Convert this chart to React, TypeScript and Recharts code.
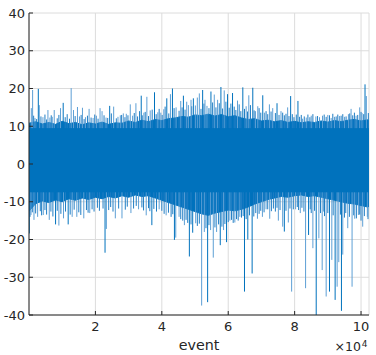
import { ComposedChart, Area, Line, XAxis, YAxis, CartesianGrid, Label } from 'recharts';

const BLUE = '#0072BD';
const MID = '#1f7dc4';
const FAINT = '#5d9fd5';
const INK = '#262626';
const GRID = '#dcdcdc';
const FONT = '"DejaVu Sans", sans-serif';

// x range of the record, in events
const xMax = 102400;
const coreStep = 2000;

// dense band of the signal, one value every 2000 events (last one clipped to xMax)
const coreHi = [
  10.8, 11.2, 10.6, 11.0, 10.5, 11.3, 10.7, 11.0, 10.4, 10.9,
  10.6, 11.1, 10.5, 10.9, 10.8, 11.4, 11.0, 11.6, 11.2, 11.8,
  11.5, 12.0, 12.2, 12.6, 12.4, 13.0, 12.8, 13.2, 12.7, 13.1,
  12.5, 12.8, 12.2, 11.8, 12.0, 11.4, 11.6, 11.2, 11.5, 11.0,
  11.3, 10.9, 11.2, 11.0, 11.4, 11.1, 11.5, 11.2, 11.6, 11.8,
  11.4, 11.7, 11.5,
];
const coreLo = [
  -12.5, -10.5, -9.8, -10.2, -9.5, -10.0, -9.2, -9.6, -9.0, -9.4,
  -8.8, -9.2, -8.6, -9.0, -8.4, -8.8, -8.2, -8.6, -8.4, -9.0,
  -9.6, -10.2, -10.8, -11.4, -12.0, -12.6, -13.2, -13.6, -13.0, -12.6,
  -12.2, -12.4, -12.0, -11.4, -10.6, -10.0, -9.4, -9.0, -8.6, -8.8,
  -8.4, -8.2, -8.6, -8.4, -8.8, -9.2, -9.6, -10.0, -10.4, -10.6,
  -11.0, -11.4, -11.2,
];

// where the stems leave the band (inside it everywhere)
const bandInnerTop = 9.5;
const bandInnerBottom = -7.5;

// small excursions that roughen the edge of the band: [event, value]
const edgeSpikes: [number, number][] = [
  [1400, 12.8], [2300, 11.9], [3600, 12.6], [4800, 13.1], [5300, 11.8], [6700, 12.9],
  [8500, 12.1], [9000, 13.0], [10900, 12.4], [11500, 13.2], [12200, 12.0], [13900, 12.7],
  [15700, 13.0], [16600, 11.9], [17600, 12.8], [18700, 12.3], [19800, 13.1], [20800, 12.0],
  [22600, 12.9], [23700, 12.2], [24800, 13.4], [26300, 12.1], [27900, 13.0], [28900, 12.4],
  [29800, 12.9], [31700, 13.5], [32700, 12.6], [33300, 14.0], [34100, 12.9], [35000, 13.8],
  [36000, 12.7], [37100, 14.4], [38300, 13.2], [39200, 14.6], [40100, 13.0], [41000, 15.2],
  [42100, 13.4], [43700, 14.8], [45200, 14.1], [46100, 15.0], [47000, 14.4], [49000, 15.3],
  [51800, 14.6], [52700, 16.0], [54200, 14.8], [55300, 16.3], [56300, 15.0], [57300, 16.1],
  [58300, 14.7], [59300, 16.5], [60300, 14.9], [60800, 16.0], [61800, 15.2], [62300, 14.3],
  [63300, 15.8], [63800, 14.0], [64900, 14.6], [65800, 13.9], [66700, 15.6], [67800, 14.2],
  [69300, 14.8], [69800, 13.6], [71400, 14.0], [71900, 13.2], [72900, 13.9], [74200, 13.5],
  [75300, 13.0], [76400, 13.6], [76900, 12.9], [77400, 13.3], [78300, 12.7], [79300, 13.2],
  [79800, 12.4], [80500, 13.1], [81500, 12.5], [82000, 13.0], [82900, 12.6], [84000, 13.1],
  [84600, 12.4], [85500, 13.2], [86900, 12.7], [88900, 13.1], [89500, 12.5], [90500, 12.9],
  [91500, 13.3], [92500, 12.6], [93000, 13.1], [94000, 12.8], [94500, 13.2], [95500, 12.6],
  [96600, 13.4], [97500, 12.9], [98000, 13.6], [99000, 13.0], [100000, 13.8], [100800, 13.2],
  [102200, 13.5],
  [300, -14.0], [1000, -12.8], [2000, -13.1], [3400, -12.5], [3800, -13.6], [4800, -12.2],
  [5300, -13.4], [6600, -12.6], [7200, -13.9], [8500, -12.4], [9600, -13.2], [11000, -12.6],
  [12400, -13.4], [13600, -12.1], [15000, -12.8], [15600, -13.5], [17300, -12.2], [17800, -12.9],
  [19000, -12.0], [19600, -12.6], [20600, -11.6], [21200, -12.4], [22300, -11.8], [24000, -12.2],
  [24600, -11.4], [25300, -12.6], [27000, -11.8], [29000, -12.1], [29600, -11.3], [31500, -11.8],
  [32300, -11.1], [34000, -11.5], [34500, -12.3], [36000, -11.7], [36400, -12.5], [37600, -11.9],
  [38400, -12.6], [40000, -12.4], [40700, -13.2], [42000, -12.9], [42800, -14.0], [43300, -13.3],
  [45700, -14.6], [46300, -15.0], [47300, -14.8], [47800, -15.6], [48800, -16.0], [50700, -16.4],
  [51300, -15.8], [53300, -17.0], [54200, -16.2], [56000, -16.8], [57100, -16.0], [58100, -16.6],
  [59000, -15.9], [60000, -15.4], [61000, -14.8], [61500, -15.6], [62500, -14.6], [63000, -15.0],
  [64000, -14.2], [64500, -13.8], [65400, -14.6], [66400, -13.6], [67700, -13.9], [68300, -13.0],
  [69300, -13.2], [69800, -12.4], [70800, -12.8], [71900, -12.0], [73000, -12.5], [73600, -11.8],
  [74200, -12.6], [74700, -11.6], [75600, -12.2], [77400, -12.4], [78600, -11.8], [79600, -12.0],
  [80800, -11.4], [81200, -12.2], [82200, -11.6], [82800, -12.6], [84700, -12.0], [85000, -13.0],
  [86000, -12.4], [87800, -13.0], [88800, -12.6], [89000, -13.8], [90000, -13.0], [91600, -13.6],
  [93800, -13.4], [95000, -14.2], [95400, -13.0], [96500, -14.0], [97800, -13.6], [98600, -14.4],
  [99600, -13.4], [100000, -15.0], [101000, -13.8], [102100, -14.6],
];

// isolated excursions outside the band: [event, value]
const darkSpikes: [number, number][] = [
  [2800, 19.9], [10300, 16.2], [24300, 15.4], [33800, 18.1], [37800, 19.0],
  [41500, 17.4], [43200, 20.0], [46500, 18.1], [49500, 17.4], [52300, 19.6],
  [54800, 19.2], [57800, 20.4], [59800, 18.5], [61300, 18.8], [64400, 20.3],
  [67400, 20.2], [70400, 18.2], [74700, 16.1], [78800, 18.0], [81000, 16.7],
  [101200, 21.1],
  [100, -18.4], [8000, -16.0], [11800, -16.0], [22900, -23.5], [37000, -16.2],
  [43800, -20.1], [48300, -24.5], [49300, -18.2], [53800, -36.6], [57600, -21.5],
  [59500, -20.7], [64900, -33.8], [65900, -20.0], [67200, -29.0], [76900, -17.9],
  [84200, -18.8], [86500, -40.5], [90500, -33.8], [92200, -36.0], [94100, -38.9],
];

const faintSpikes: [number, number][] = [
  [700, 14.8], [1090, 19.6], [1800, 12.2], [3100, 15.6], [4200, 12.4],
  [5700, 14.3], [6300, 12.3], [7000, 12.5], [7600, 14.3], [9500, 14.8],
  [12700, 20.1], [13400, 14.3], [14600, 15.1], [15200, 12.6], [16100, 14.9],
  [17000, 12.4], [18100, 14.6], [19300, 12.2], [20300, 12.8], [21400, 14.8],
  [22000, 14.0], [23200, 12.3], [25500, 15.2], [26800, 12.5], [27500, 12.9],
  [28400, 13.4], [29300, 13.3], [30500, 15.8], [31200, 12.8], [32200, 16.1],
  [34600, 13.6], [35500, 17.8], [36500, 14.2], [38800, 13.7], [39700, 13.6],
  [40600, 14.5], [42600, 18.5], [44300, 15.0], [45700, 16.7], [47500, 16.5],
  [48000, 15.6], [48800, 17.0], [50100, 15.5], [50700, 17.6], [51300, 18.7],
  [53000, 17.0], [53600, 15.4], [55800, 18.4], [56800, 17.0], [58800, 19.5],
  [62800, 16.8], [65400, 15.3], [66200, 18.2], [68200, 14.0], [68900, 15.3],
  [70900, 13.6], [72400, 15.8], [73400, 14.8], [75900, 14.0], [77900, 15.0],
  [82400, 12.0], [83500, 12.3], [85000, 12.8], [86400, 12.6], [87500, 12.4],
  [88400, 12.8], [90000, 13.0], [91000, 12.2], [92000, 12.5], [93500, 12.7],
  [95000, 12.5], [96200, 13.2], [97000, 14.6], [98500, 12.8], [99600, 15.0],
  [100300, 13.5], [101600, 18.0],
  [600, -13.5], [1500, -14.8], [2600, -14.0], [4300, -13.5], [6100, -14.8],
  [9000, -16.3], [10400, -14.4], [13000, -14.0], [14400, -14.0], [16500, -14.4],
  [18300, -13.0], [23300, -17.2], [26000, -14.4], [28000, -14.4], [30700, -13.0],
  [33000, -12.0], [35300, -13.6], [39200, -12.0], [41300, -13.6], [44200, -19.5],
  [45200, -14.0], [46800, -16.2], [50200, -15.7], [52000, -37.5], [52800, -18.0],
  [54700, -17.5], [55500, -24.8], [56500, -18.0], [58600, -17.5], [60500, -15.0],
  [62000, -15.5], [63500, -14.0], [68800, -14.5], [70300, -14.0], [71400, -12.0],
  [72500, -14.5], [75100, -15.0], [76400, -16.6], [78100, -15.5], [79100, -33.8],
  [80300, -12.0], [81700, -13.0], [83300, -32.9], [85500, -22.3], [87300, -19.7],
  [88300, -28.1], [89500, -35.1], [91200, -25.4], [92800, -32.5], [93300, -26.0],
  [94500, -24.0], [96000, -17.0], [97300, -32.5], [98100, -14.5], [99200, -13.5],
  [100500, -16.6], [101900, -14.0],
];

const xTicks = [20000, 40000, 60000, 80000, 100000];
const yTicks = [-40, -30, -20, -10, 0, 10, 20, 30, 40];

const coreData = coreHi.map((hi, i) => ({
  event: Math.min(i * coreStep, xMax),
  lo: coreLo[i],
  hi,
}));

// each excursion drawn as a separate stem leaving the band (a null breaks the line)
const stems = (list: [number, number][]) =>
  [...list]
    .sort((a, b) => a[0] - b[0])
    .flatMap(([e, v]) => [
      { event: e, y: v > 0 ? bandInnerTop : bandInnerBottom },
      { event: e, y: v },
      { event: e, y: null },
    ]);

const tickStyle = { fill: INK, fontSize: 13, fontFamily: FONT };

function Caption({ viewBox }: any) {
  const { x, y, width } = viewBox;
  return (
    <g fontFamily={FONT} fill={INK}>
      <text x={x + width / 2} y={y + 35} textAnchor="middle" fontSize={14.3}>
        event
      </text>
      <text x={x + width - 8} y={y + 36} textAnchor="end" fontSize={12.5}>
        ×10
      </text>
      <text x={x + width - 7.3} y={y + 32} fontSize={9}>
        4
      </text>
    </g>
  );
}

export default function App() {
  return (
    <div style={{ position: 'absolute', left: 0, top: 0, width: 376, height: 355 }}>
      <ComposedChart
        width={376}
        height={355}
        data={coreData}
        margin={{ top: 13, right: 7, left: 0, bottom: 0 }}
        style={{ overflow: 'visible' }}
      >
        <CartesianGrid stroke={GRID} strokeWidth={1} />
        <XAxis
          dataKey="event"
          type="number"
          domain={[0, xMax]}
          allowDataOverflow
          ticks={xTicks}
          tickFormatter={(v) => String(v / 10000)}
          height={40}
          stroke={INK}
          tickSize={-4}
          tickMargin={11}
          tick={tickStyle}
        >
          <Label content={(props: any) => <Caption viewBox={props.viewBox} />} />
        </XAxis>
        <XAxis
          xAxisId="top"
          orientation="top"
          dataKey="event"
          type="number"
          domain={[0, xMax]}
          allowDataOverflow
          ticks={xTicks}
          tickFormatter={() => ''}
          height={0}
          stroke={INK}
          tickSize={-4}
        />
        <YAxis
          type="number"
          domain={[-40, 40]}
          allowDataOverflow
          ticks={yTicks}
          width={29}
          stroke={INK}
          tickSize={-4}
          tickMargin={8}
          tick={tickStyle}
        />
        <YAxis
          yAxisId="right"
          orientation="right"
          type="number"
          domain={[-40, 40]}
          allowDataOverflow
          ticks={yTicks}
          tickFormatter={() => ''}
          width={0}
          stroke={INK}
          tickSize={-4}
        />
        <Area
          type="linear"
          dataKey={(d: any) => [d.lo, d.hi]}
          stroke={BLUE}
          strokeWidth={1}
          fill={BLUE}
          fillOpacity={1}
          isAnimationActive={false}
        />
        <Line
          data={stems(edgeSpikes)}
          dataKey="y"
          type="linear"
          stroke={MID}
          strokeWidth={1}
          dot={false}
          connectNulls={false}
          isAnimationActive={false}
        />
        <Line
          data={stems(faintSpikes)}
          dataKey="y"
          type="linear"
          stroke={FAINT}
          strokeWidth={1}
          dot={false}
          connectNulls={false}
          isAnimationActive={false}
        />
        <Line
          data={stems(darkSpikes)}
          dataKey="y"
          type="linear"
          stroke={BLUE}
          strokeWidth={1}
          dot={false}
          connectNulls={false}
          isAnimationActive={false}
        />
      </ComposedChart>
    </div>
  );
}
